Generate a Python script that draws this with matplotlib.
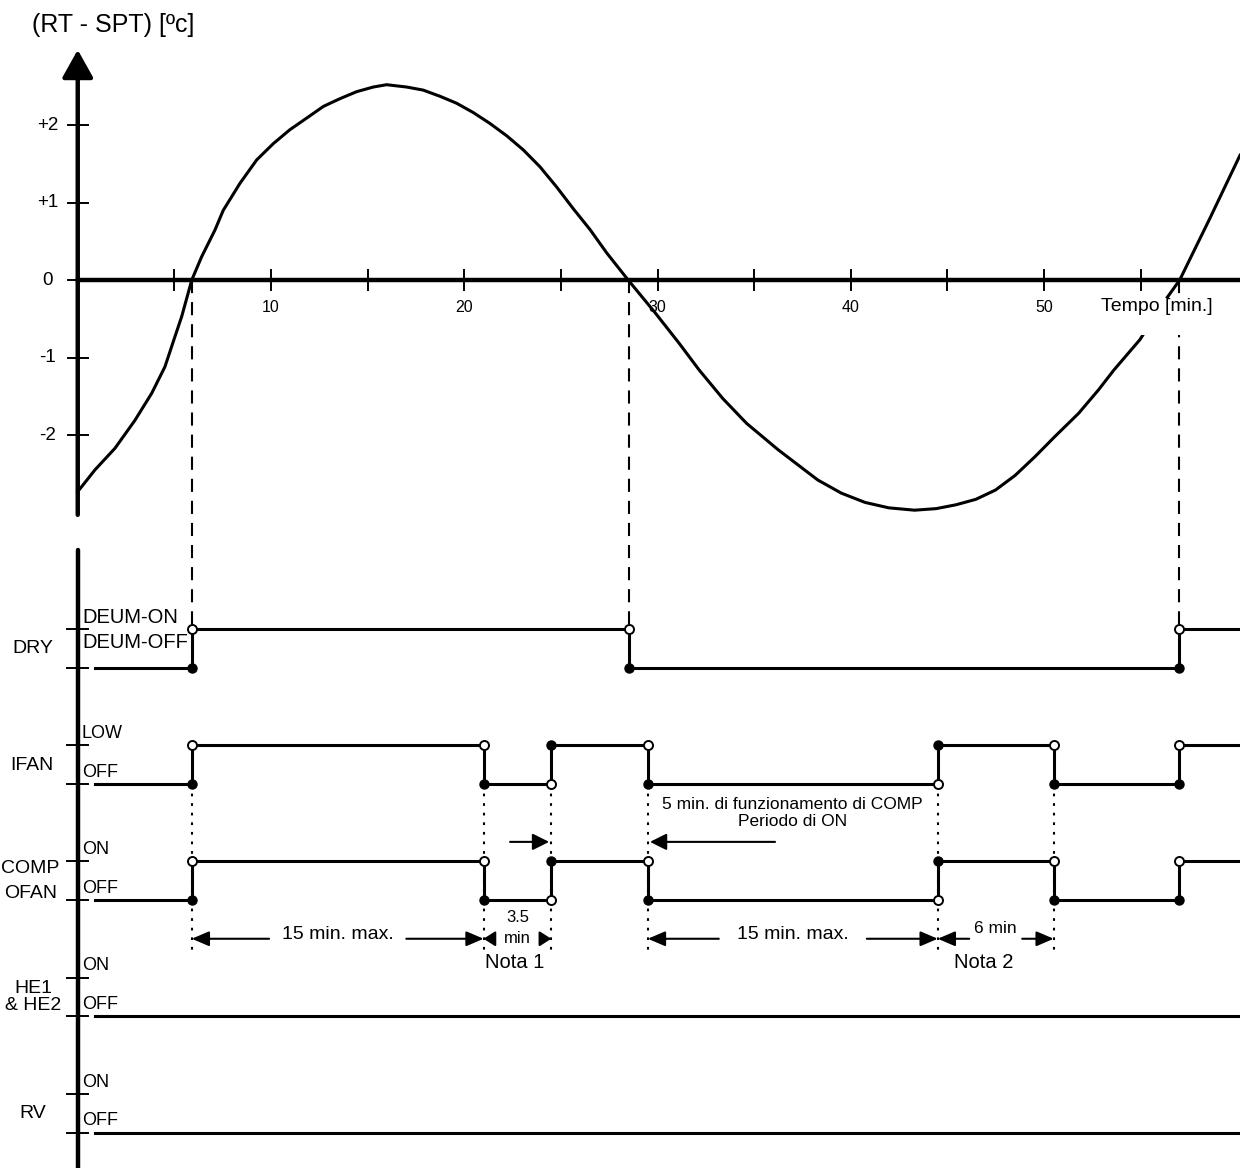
import matplotlib.pyplot as plt

plt.rcParams['font.family'] = ['Liberation Sans', 'DejaVu Sans']

# andamento (RT - SPT): tempo [min] / temperatura [°C]
curve_t = [0.0, 0.89, 1.93, 2.96, 3.83, 4.51, 5.03, 5.38, 5.90, 6.41, 7.10, 7.53,
           8.40, 9.26, 10.12, 10.98, 11.85, 12.71, 13.57, 14.43, 15.29, 15.98,
           17.02, 17.88, 18.75, 19.61, 20.47, 21.33, 22.20, 23.05, 23.92, 24.78,
           25.64, 26.51, 27.37, 28.48, 29.90, 31.13, 32.15, 33.38, 34.61, 36.24,
           38.29, 39.51, 40.74, 41.97, 43.30, 44.42, 45.45, 46.47, 47.49, 48.51,
           49.53, 50.56, 51.79, 52.81, 53.62, 54.96, 56.36, 57.02, 58.59, 60.14]
curve_T = [-2.73, -2.45, -2.17, -1.81, -1.46, -1.12, -0.73, -0.47, 0.0, 0.30, 0.645, 0.90,
           1.25, 1.55, 1.76, 1.94, 2.09, 2.24, 2.34, 2.43, 2.49, 2.52,
           2.49, 2.45, 2.37, 2.28, 2.16, 2.02, 1.86, 1.68, 1.46, 1.20,
           0.92, 0.65, 0.35, 0.0, -0.43, -0.82, -1.16, -1.53, -1.85, -2.19,
           -2.58, -2.75, -2.87, -2.94, -2.97, -2.95, -2.90, -2.83, -2.71, -2.52,
           -2.28, -2.02, -1.72, -1.42, -1.16, -0.77, -0.23, 0.0, 0.80, 1.61]

x_ticks = [5, 10, 15, 20, 25, 30, 35, 40, 45, 50, 55]
x_ticklabels = [10, 20, 30, 40, 50]
y_ticks = [2, 1, 0, -1, -2]
y_ticklabels = ['+2', '+1', '0', '-1', '-2']

# segnali: istanti di commutazione, stati (iniziale + dopo ogni commutazione),
# livello col pallino pieno ad ogni commutazione (0 = OFF, 1 = ON)
dry_t = [5.9, 28.5, 57.0]
dry_s = [0, 1, 0, 1]
dry_fill = [0, 0, 0]
ifan_t = [5.9, 21.0, 24.5, 29.5, 44.5, 50.5, 57.0]
ifan_s = [0, 1, 0, 1, 0, 1, 0, 1]
ifan_fill = [0, 0, 1, 0, 1, 0, 0]
comp_t = [5.9, 21.0, 24.5, 29.5, 44.5, 50.5, 57.0]
comp_s = [0, 1, 0, 1, 0, 1, 0, 1]
comp_fill = [0, 0, 1, 0, 1, 0, 0]
he_t, he_s, he_fill = [], [0], []
rv_t, rv_s, rv_fill = [], [0], []

# quote dei tempi
dim_start = [5.9, 21.0, 29.5, 44.5]
dim_end = [21.0, 24.5, 44.5, 50.5]
dim_text = ['15 min. max.', '3.5\nmin', '15 min. max.', '6 min']
nota_t = [22.6, 46.9]
nota_text = ['Nota 1', 'Nota 2']

# layout
ON_STEP = 0.5
rows_off = [-5.0, -6.5, -8.0, -9.5, -11.0]
SIG_START, SIG_END = 0.89, 61.0
LW_AX, LW_SIG, LW_THIN = 3.2, 2.2, 1.4

fig = plt.figure(figsize=(12.4, 11.68), dpi=100)
ax = fig.add_axes([0, 0, 1, 1])
ax.set_xlim(-4.023, 60.14)
ax.set_ylim(-11.458, 3.613)
ax.axis('off')

# --- grafico temperatura ---
ax.plot(curve_t, curve_T, color='k', lw=2.2, solid_joinstyle='round', zorder=3)
ax.annotate('', xy=(0, 2.97), xytext=(0, -3.03),
            arrowprops=dict(arrowstyle='-|>,head_length=1.7,head_width=0.95',
                            lw=LW_AX, color='k', shrinkA=0, shrinkB=0), zorder=5)
ax.plot([0, 60.5], [0, 0], color='k', lw=LW_AX, zorder=5)
for t in x_ticks:
    ax.plot([t, t], [-0.13, 0.13], color='k', lw=LW_THIN, zorder=5)
for t in x_ticklabels:
    ax.text(t, -0.36, str(t), ha='center', va='center', fontsize=11.5, zorder=2)
for v, lab in zip(y_ticks, y_ticklabels):
    ax.plot([-0.52, 0.52], [v, v], color='k', lw=LW_THIN, zorder=5)
    ax.text(-1.57, v, lab, ha='center', va='center', fontsize=13.5)
ax.text(-2.37, 3.29, '(RT - SPT) [ºc]', ha='left', va='center', fontsize=18)
ax.text(55.85, -0.232, 'Tempo [min.]\n', ha='center', va='top', fontsize=14,
        bbox=dict(fc='white', ec='none', pad=0), zorder=4)

# linee tratteggiate dagli attraversamenti dello zero
for t in dry_t:
    ax.plot([t, t], [0, rows_off[0] + ON_STEP], color='k', lw=1.5,
            linestyle=(0, (6.3, 4.3)), zorder=1)

# --- diagramma temporale ---
ax.plot([0, 0], [-3.48, -11.7], color='k', lw=LW_AX, solid_capstyle='round', zorder=5)


def draw_signal(ts, states, fills, off):
    xs = [SIG_START]
    ys = [off + ON_STEP * states[0]]
    for t, s in zip(ts, states[1:]):
        xs += [t, t]
        ys += [ys[-1], off + ON_STEP * s]
    xs.append(SIG_END)
    ys.append(ys[-1])
    ax.plot(xs, ys, color='k', lw=LW_SIG, solid_joinstyle='miter', zorder=3)
    for t, f in zip(ts, fills):
        ax.plot(t, off + ON_STEP * f, 'o', ms=6.5, mfc='k', mec='k', zorder=6)
        ax.plot(t, off + ON_STEP * (1 - f), 'o', ms=6.5, mfc='white', mec='k',
                mew=1.4, zorder=6)


signals = [(dry_t, dry_s, dry_fill), (ifan_t, ifan_s, ifan_fill),
           (comp_t, comp_s, comp_fill), (he_t, he_s, he_fill), (rv_t, rv_s, rv_fill)]
for (ts, ss, ff), off in zip(signals, rows_off):
    for lvl in (off, off + ON_STEP):
        ax.plot([-0.56, 0.54], [lvl, lvl], color='k', lw=LW_THIN, zorder=5)
    draw_signal(ts, ss, ff, off)

# etichette dei livelli
ax.text(0.22, rows_off[0] + ON_STEP + 0.14, 'DEUM-ON', va='center', fontsize=14.5)
ax.text(0.22, rows_off[0] + ON_STEP - 0.18, 'DEUM-OFF', va='center', fontsize=14.5)
for off, on_lab in zip(rows_off[1:], ['LOW', 'ON', 'ON', 'ON']):
    ax.text(0.22, off + ON_STEP + 0.15, on_lab, va='center', fontsize=13)
    ax.text(0.22, off + 0.15, 'OFF', va='center', fontsize=13)

# nomi delle uscite
ax.text(-2.32, -4.75, 'DRY', ha='center', va='center', fontsize=14)
ax.text(-2.35, -6.26, 'IFAN', ha='center', va='center', fontsize=14)
ax.text(-2.45, -7.59, 'COMP', ha='center', va='center', fontsize=14)
ax.text(-2.42, -7.92, 'OFAN', ha='center', va='center', fontsize=14)
ax.text(-2.3, -9.25, 'HE1\n& HE2', ha='center', va='center', fontsize=14,
        linespacing=1.05)
ax.text(-2.35, -10.75, 'RV', ha='center', va='center', fontsize=14)

# linee punteggiate alle commutazioni di IFAN / COMP
for t in ifan_t[:-1]:
    ax.plot([t, t], [rows_off[1], -8.67], color='k', lw=1.5,
            linestyle=(0, (1.3, 3.3)), zorder=2)

# quote
DIM_Y = -8.50
gap_half = [3.55, 1.25, 3.83, 1.37]
head_len = [1.05, 0.7, 1.05, 1.05]
text_y = [-8.44, -8.36, -8.44, -8.37]
text_fs = [14, 12, 14, 12.5]
for a, b, g, hl, lab, ty, fs in zip(dim_start, dim_end, gap_half, head_len,
                                    dim_text, text_y, text_fs):
    mid = (a + b) / 2
    style = '-|>,head_length=%g,head_width=0.45' % hl
    for tip, tail in ((a, mid - g), (b, mid + g)):
        ax.annotate('', xy=(tip, DIM_Y), xytext=(tail, DIM_Y),
                    arrowprops=dict(arrowstyle=style, lw=1.5, color='k',
                                    shrinkA=0, shrinkB=0))
    ax.text(mid, ty, lab, ha='center', va='center', fontsize=fs, linespacing=1.45)
for t, lab in zip(nota_t, nota_text):
    ax.text(t, -8.81, lab, ha='center', va='center', fontsize=14.5)

# nota sui 5 minuti di funzionamento del compressore
for tail, tip in ((22.37, 24.39), (36.08, 29.61)):
    ax.annotate('', xy=(tip, -7.25), xytext=(tail, -7.25),
                arrowprops=dict(arrowstyle='-|>,head_length=1.0,head_width=0.5',
                                lw=1.5, color='k', shrinkA=0, shrinkB=0))
ax.text(37.0, -6.875, '5 min. di funzionamento di COMP\nPeriodo di ON',
        ha='center', va='center', fontsize=12.5, linespacing=1.2)

fig.savefig('out.png', dpi=100)
